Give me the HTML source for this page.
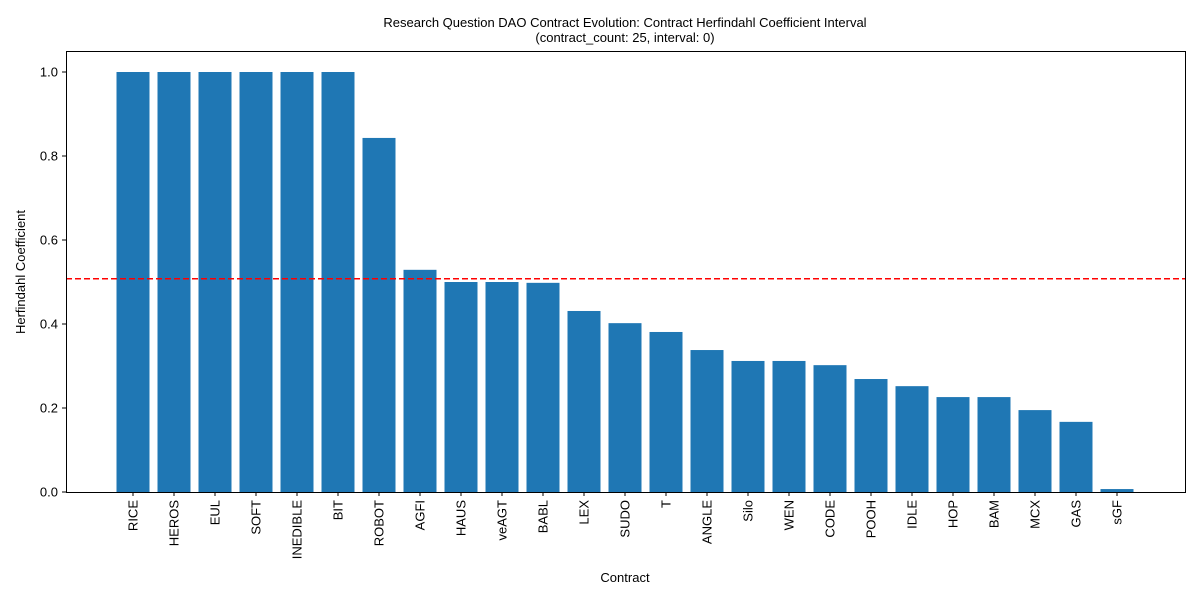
<!DOCTYPE html>
<html><head><meta charset="utf-8"><style>
body{margin:0;background:#fff;}
svg text{font-family:"Liberation Sans","DejaVu Sans",sans-serif;fill:#000;}
</style></head><body>
<svg id="chart" width="1200" height="600" xmlns="http://www.w3.org/2000/svg">
<rect x="0" y="0" width="1200" height="600" fill="#fff"/>
<text x="625" y="27" font-size="13" text-anchor="middle">Research Question DAO Contract Evolution: Contract Herfindahl Coefficient Interval</text>
<text x="625" y="42" font-size="13" text-anchor="middle">(contract_count: 25, interval: 0)</text>
<g id="bars"></g><g id="yticks"></g><g id="xticks"></g>
<rect x="66.5" y="51.5" width="1119" height="441" fill="none" stroke="#000" stroke-width="1"/>
<text x="625" y="582" font-size="13" text-anchor="middle">Contract</text>
<text x="25" y="272" font-size="13" text-anchor="middle" transform="rotate(-90 25 272)">Herfindahl Coefficient</text>
</svg>
<script>
const categories=["RICE","HEROS","EUL","SOFT","INEDIBLE","BIT","ROBOT","AGFI","HAUS","veAGT","BABL","LEX","SUDO","T","ANGLE","Silo","WEN","CODE","POOH","IDLE","HOP","BAM","MCX","GAS","sGF"];
const values=[1.0,1.0,1.0,1.0,1.0,1.0,0.843,0.529,0.5,0.5,0.498,0.431,0.402,0.381,0.338,0.312,0.312,0.302,0.269,0.252,0.226,0.226,0.195,0.167,0.007];
const yTicks=[0,0.2,0.4,0.6,0.8,1.0];
const yTickLabels=["0.0","0.2","0.4","0.6","0.8","1.0"];
const NS="http://www.w3.org/2000/svg";
const y=v=>492-v*420;
const x=i=>133+i*41;
const bars=document.getElementById('bars'),yt=document.getElementById('yticks'),xt=document.getElementById('xticks');
function mk(t,a){const e=document.createElementNS(NS,t);for(const k in a)e.setAttribute(k,a[k]);return e;}
values.forEach((v,i)=>{
 const r=mk('rect',{x:x(i)-16.5,y:y(v),width:33,height:492-y(v),fill:'#1f77b4'});
 
 
 bars.appendChild(r);
 const tk=mk('line',{x1:x(i),x2:x(i),y1:492,y2:496,stroke:'#000'});
 
 
 xt.appendChild(tk);
 const t=mk('text',{x:0,y:0,'font-size':13,'text-anchor':'end',transform:`translate(${x(i)+4.5},500) rotate(-90)`});
 t.textContent=categories[i];
 
 
 xt.appendChild(t);
});
const mean=values.reduce((a,b)=>a+b,0)/values.length;
const ml=mk('line',{x1:66,x2:1185,y1:y(mean),y2:y(mean),stroke:'#ff0000','stroke-width':1.5,'stroke-dasharray':'6,3'});


bars.appendChild(ml);
yTicks.forEach((v,i)=>{
 const tk=mk('line',{x1:62,x2:66,y1:y(v),y2:y(v),stroke:'#000'});
 
 
 yt.appendChild(tk);
 const t=mk('text',{x:58,y:y(v)+4.5,'font-size':13,'text-anchor':'end'});
 t.textContent=yTickLabels[i];
 
 
 yt.appendChild(t);
});
</script>
</body></html>
